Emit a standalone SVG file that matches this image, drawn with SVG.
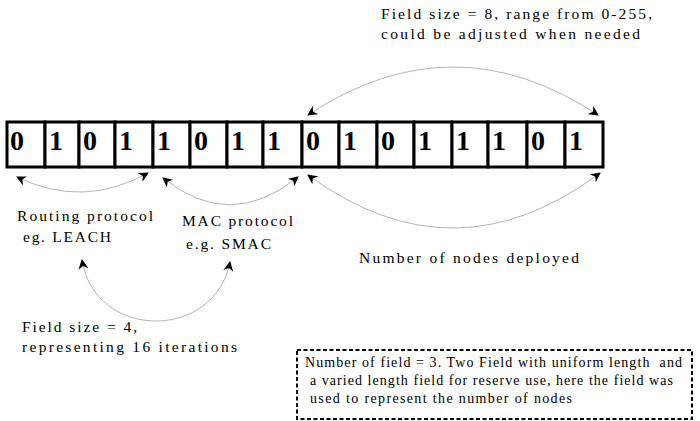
<svg xmlns="http://www.w3.org/2000/svg" width="700" height="421" viewBox="0 0 700 421">
<style>
.cell{fill:#fff;stroke:#000;stroke-width:3}
.bit{font-family:"Liberation Serif","Times New Roman",serif;font-weight:bold;font-size:28px;fill:#000}
.lbl{font-family:"Liberation Serif",serif;font-size:15.5px;fill:#000}
.box{font-family:"Liberation Serif",serif;font-size:14px;fill:#000}
.arc{fill:none;stroke:#b5b5b5;stroke-width:1;marker-start:url(#ah);marker-end:url(#ah)}
</style>
<defs>
<marker id="ah" viewBox="0 0 10 10" refX="9" refY="5" markerWidth="10" markerHeight="10" markerUnits="userSpaceOnUse" orient="auto-start-reverse">
<path d="M0,0 L10,5 L0,10 L3,5 Z" fill="#000"/>
</marker>
</defs>
<rect width="700" height="421" fill="#fff"/>
<g id="strip">
<g id="b1"><rect class="cell" x="7" y="122" width="38" height="45"/><text class="bit" x="10" y="150">0</text></g>
<g id="b2"><rect class="cell" x="45" y="122" width="34" height="45"/><text class="bit" x="49" y="150">1</text></g>
<g id="b3"><rect class="cell" x="79" y="122" width="36" height="45"/><text class="bit" x="83" y="150">0</text></g>
<g id="b4"><rect class="cell" x="115" y="122" width="38" height="45"/><text class="bit" x="119" y="150">1</text></g>
<g id="b5"><rect class="cell" x="153" y="122" width="37" height="45"/><text class="bit" x="157" y="150">1</text></g>
<g id="b6"><rect class="cell" x="190" y="122" width="37" height="45"/><text class="bit" x="194" y="150">0</text></g>
<g id="b7"><rect class="cell" x="227" y="122" width="36" height="45"/><text class="bit" x="231" y="150">1</text></g>
<g id="b8"><rect class="cell" x="263" y="122" width="39" height="45"/><text class="bit" x="267" y="150">1</text></g>
<g id="b9"><rect class="cell" x="302" y="122" width="37" height="45"/><text class="bit" x="306" y="150">0</text></g>
<g id="b10"><rect class="cell" x="339" y="122" width="38" height="45"/><text class="bit" x="343" y="150">1</text></g>
<g id="b11"><rect class="cell" x="377" y="122" width="37" height="45"/><text class="bit" x="381" y="150">0</text></g>
<g id="b12"><rect class="cell" x="414" y="122" width="38" height="45"/><text class="bit" x="418" y="150">1</text></g>
<g id="b13"><rect class="cell" x="452" y="122" width="36" height="45"/><text class="bit" x="456" y="150">1</text></g>
<g id="b14"><rect class="cell" x="488" y="122" width="39" height="45"/><text class="bit" x="492" y="150">1</text></g>
<g id="b15"><rect class="cell" x="527" y="122" width="38" height="45"/><text class="bit" x="531" y="150">0</text></g>
<g id="b16"><rect class="cell" x="565" y="122" width="38" height="45"/><text class="bit" x="569" y="150">1</text></g>
</g>
<g id="connectors">
<path class="arc" d="M308,115 Q453,19 598,115"/>
<path class="arc" d="M17,177 Q83,209 148,173"/>
<path class="arc" d="M163,178 Q230,232 298,177"/>
<path class="arc" d="M308,175 Q454,282 600,173"/>
<path class="arc" d="M82,260 C95,341 215,341 230,262"/>
</g>
<g id="label-top">
<text class="lbl" x="381" y="19" textLength="271" lengthAdjust="spacing">Field size = 8, range from 0-255,</text>
<text class="lbl" x="381" y="39" textLength="259" lengthAdjust="spacing">could be adjusted when needed</text>
</g>
<g id="label-routing">
<text class="lbl" x="17" y="221" textLength="136" lengthAdjust="spacing">Routing protocol</text>
<text class="lbl" x="23" y="242" textLength="88" lengthAdjust="spacing">eg. LEACH</text>
</g>
<g id="label-mac">
<text class="lbl" x="182" y="226" textLength="111" lengthAdjust="spacing">MAC protocol</text>
<text class="lbl" x="186" y="249" textLength="85" lengthAdjust="spacing">e.g. SMAC</text>
</g>
<g id="label-nodes">
<text class="lbl" x="359" y="263" textLength="220" lengthAdjust="spacing">Number of nodes deployed</text>
</g>
<g id="label-field4">
<text class="lbl" x="22" y="332" textLength="115" lengthAdjust="spacing">Field size = 4,</text>
<text class="lbl" x="22" y="352" textLength="215" lengthAdjust="spacing">representing 16 iterations</text>
</g>
<g id="note">
<rect x="297" y="350" width="395" height="69" fill="none" stroke="#000" stroke-width="2" stroke-dasharray="4,2.5"/>
<text class="box" x="305" y="367" textLength="377" lengthAdjust="spacing" xml:space="preserve">Number of field = 3. Two Field with uniform length  and</text>
<text class="box" x="310" y="385" textLength="363" lengthAdjust="spacing">a varied length field for reserve use, here the field was</text>
<text class="box" x="310" y="403" textLength="262" lengthAdjust="spacing">used to represent the number of nodes</text>
</g>
</svg>
